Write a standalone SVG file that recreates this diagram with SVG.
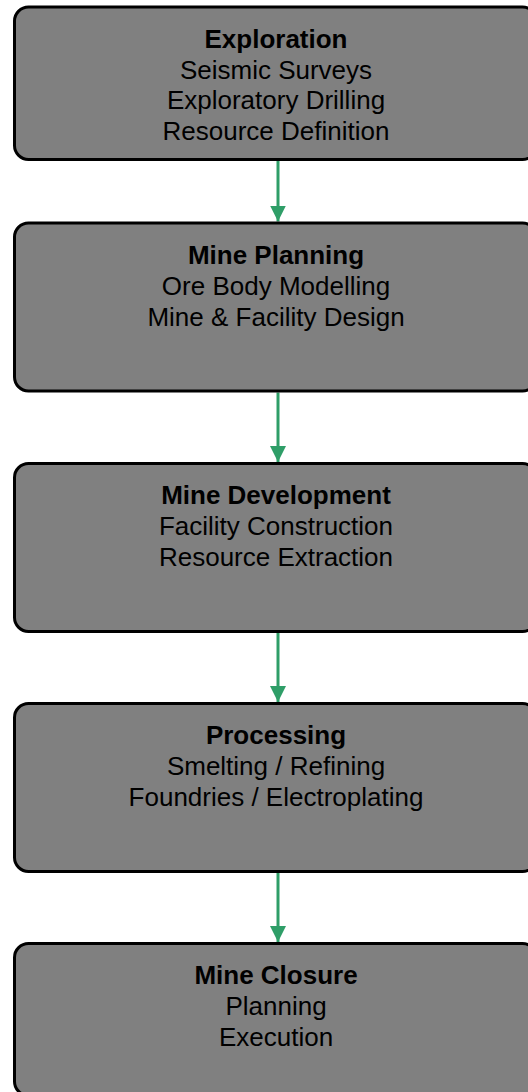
<svg xmlns="http://www.w3.org/2000/svg" width="528" height="1092" viewBox="0 0 528 1092">
<style>
.box{fill:#808080;stroke:#000;stroke-width:3}
.t{font-family:"Liberation Sans",Arial,sans-serif;font-size:26px;fill:#000;text-anchor:middle}
.b{font-weight:bold}
.c{stroke:#2f9e68;stroke-width:3;fill:none}
</style>
<defs>
<marker id="ah" viewBox="0 0 16 16" refX="16" refY="8" markerWidth="16" markerHeight="16" markerUnits="userSpaceOnUse" orient="auto">
<path d="M0,0 L16,8 L0,16 Z" fill="#2f9e68"/>
</marker>
</defs>
<rect width="528" height="1092" fill="#fff"/>
<g id="connectors">
<line class="c" x1="278" y1="161" x2="278" y2="221.5" marker-end="url(#ah)"/>
<line class="c" x1="278" y1="392.5" x2="278" y2="462" marker-end="url(#ah)"/>
<line class="c" x1="278" y1="633" x2="278" y2="702" marker-end="url(#ah)"/>
<line class="c" x1="278" y1="873" x2="278" y2="942" marker-end="url(#ah)"/>
</g>
<g id="exploration">
<rect class="box" x="14.5" y="7" width="522" height="152.5" rx="14"/>
<text class="t b" x="276" y="48">Exploration</text>
<text class="t" x="276" y="79">Seismic Surveys</text>
<text class="t" x="276" y="109">Exploratory Drilling</text>
<text class="t" x="276" y="140">Resource Definition</text>
</g>
<g id="mine-planning">
<rect class="box" x="14.5" y="223" width="522" height="168" rx="14"/>
<text class="t b" x="276" y="264">Mine Planning</text>
<text class="t" x="276" y="295">Ore Body Modelling</text>
<text class="t" x="276" y="326">Mine &amp; Facility Design</text>
</g>
<g id="mine-development">
<rect class="box" x="14.5" y="463.5" width="522" height="168" rx="14"/>
<text class="t b" x="276" y="504">Mine Development</text>
<text class="t" x="276" y="535">Facility Construction</text>
<text class="t" x="276" y="566">Resource Extraction</text>
</g>
<g id="processing">
<rect class="box" x="14.5" y="703.5" width="522" height="168" rx="14"/>
<text class="t b" x="276" y="744">Processing</text>
<text class="t" x="276" y="775">Smelting / Refining</text>
<text class="t" x="276" y="806">Foundries / Electroplating</text>
</g>
<g id="mine-closure">
<rect class="box" x="14.5" y="943.5" width="522" height="152" rx="14"/>
<text class="t b" x="276" y="984">Mine Closure</text>
<text class="t" x="276" y="1015">Planning</text>
<text class="t" x="276" y="1046">Execution</text>
</g>
</svg>
